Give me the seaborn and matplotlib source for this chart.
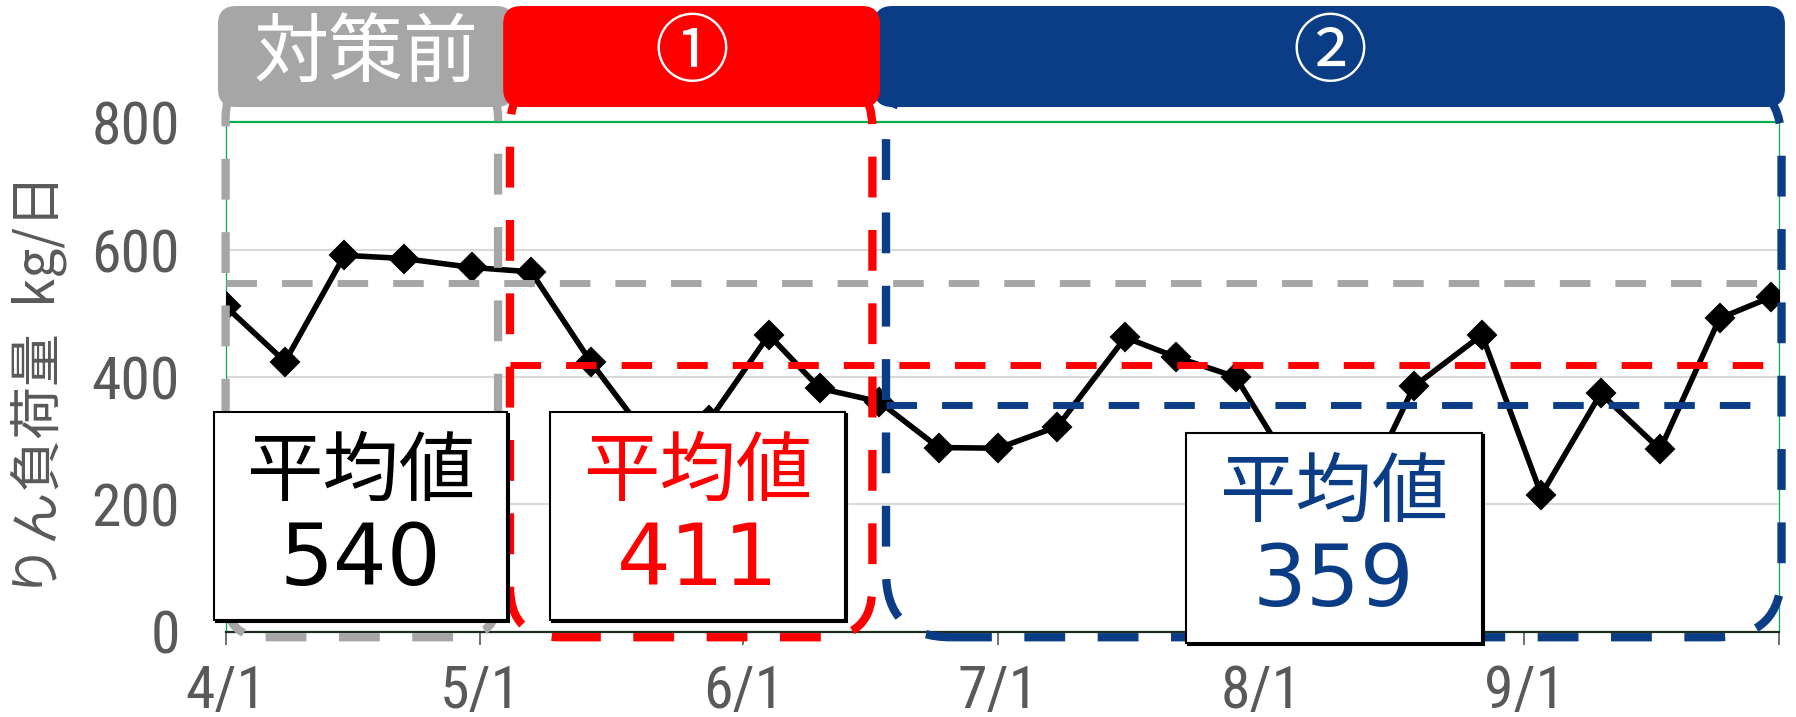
import matplotlib
matplotlib.use("Agg")
import matplotlib.pyplot as plt
import matplotlib.dates as mdates
from matplotlib.patches import FancyBboxPatch, Rectangle
from matplotlib.transforms import IdentityTransform
from matplotlib import font_manager
import pandas as pd
import seaborn as sns

# ---------------- data ----------------
dates = ["2023-04-01", "2023-04-08", "2023-04-15", "2023-04-22", "2023-04-30",
         "2023-05-07", "2023-05-14", "2023-05-21", "2023-05-28", "2023-06-04",
         "2023-06-10", "2023-06-17", "2023-06-24", "2023-07-01", "2023-07-08",
         "2023-07-16", "2023-07-22", "2023-07-29", "2023-08-05", "2023-08-12",
         "2023-08-19", "2023-08-27", "2023-09-03", "2023-09-10", "2023-09-17",
         "2023-09-24", "2023-09-30"]
load = [511, 424, 591, 586, 572,
        565, 424, 300, 332, 466,
        382, 361, 289, 288, 322,
        462, 431, 400, 248, 191,
        385, 466, 215, 374, 286,
        492, 525]

period_labels = ["対策前", "①", "②"]
period_means = [540, 411, 359]          # printed averages
mean_levels = [548, 419, 356]           # level of the dashed average lines as drawn
month_ticks = ["2023-04-01", "2023-05-01", "2023-06-01", "2023-07-01",
               "2023-08-01", "2023-09-01", "2023-10-01"]
tick_labels = ["4/1", "5/1", "6/1", "7/1", "8/1", "9/1", ""]
y_ticks = [0, 200, 400, 600, 800]
y_label = "りん負荷量\u2002kg/日"

# ---------------- styling / layout ----------------
period_colors = ["#A6A6A6", "#FF0000", "#0B3D86"]
value_colors = ["#000000", "#FF0000", "#0B3D86"]
CJK = ["Noto Sans CJK JP", "DejaVu Sans"]

installed = {f.name for f in font_manager.fontManager.ttflist}
narrow_candidates = ["Roboto Condensed", "Liberation Sans Narrow", "DejaVu Sans Condensed",
                     "Open Sans Condensed", "Noto Sans Condensed", "Arial Narrow",
                     "Liberation Sans", "DejaVu Sans"]
NARROW = [f for f in narrow_candidates if f in installed] or ["DejaVu Sans"]

sns.set_theme(style="white")
plt.rcParams["font.family"] = CJK

W, H = 1796, 717
fig = plt.figure(figsize=(W / 100, H / 100), dpi=100)
fig.patch.set_facecolor("white")
ax = fig.add_axes([225.6 / W, 1 - 631.5 / H, (1779 - 225.6) / W, (631.5 - 122.3) / H])

df = pd.DataFrame({"date": pd.to_datetime(dates), "load": load})
sns.lineplot(data=df, x="date", y="load", ax=ax, color="black", linewidth=4.0,
             marker="D", markersize=14, markeredgewidth=1.5, markeredgecolor="black",
             zorder=3)

start = pd.Timestamp(month_ticks[0])
end = pd.Timestamp(month_ticks[-1])
base = mdates.date2num(start)
ax.set_xlim(start, end)
ax.set_ylim(0, 800)
ax.set_yticks(y_ticks)
ax.set_xticks(pd.to_datetime(month_ticks))
ax.set_xticklabels(tick_labels)
ax.set_xlabel("")
ax.set_ylabel("")

ax.set_axisbelow(True)
ax.yaxis.grid(True, color="#D9D9D9", linewidth=1.5)
ax.xaxis.grid(False)
ax.spines["top"].set_color("#00B050")
ax.spines["top"].set_linewidth(1.6)
for side in ["left", "right"]:
    ax.spines[side].set_color("#00B050")
    ax.spines[side].set_linewidth(0.9)
ax.spines["bottom"].set_color("#1E2E1E")
ax.spines["bottom"].set_linewidth(1.6)

ax.tick_params(axis="y", length=0, pad=33, labelsize=43, labelcolor="#595959")
ax.tick_params(axis="x", length=9, width=1.2, color="#595959", pad=14,
               labelsize=43, labelcolor="#595959", bottom=True)
for lab in ax.get_xticklabels() + ax.get_yticklabels():
    lab.set_family(NARROW)

fig.text(39 / W, 1 - 386 / H, y_label, rotation=90, ha="center", va="center",
         fontsize=38, color="#595959", family=CJK)

# average lines (data coords)
mean_spans = [(0, 183), (33.5, 183), (77.8, 180.5)]
for lvl, (d0, d1), c in zip(mean_levels, mean_spans, period_colors):
    ax.plot([base + d0, base + d1], [lvl, lvl], color=c, linewidth=5,
            dashes=(4.4, 3.6), dash_capstyle="butt", zorder=4, clip_on=False)

ID = IdentityTransform()


def disp(day, val):
    return ax.transData.transform((base + day, val))


def box_disp(d0, d1, v0, v1):
    x0, y0 = disp(d0, v0)
    x1, y1 = disp(d1, v1)
    return min(x0, x1), min(y0, y1), abs(x1 - x0), abs(y1 - y0)


# dashed rounded period outlines
outline_spans = [(0, 32.1), (33.5, 76.2), (77.8, 183.3)]
outline_radius = [40, 50, 65]
for (d0, d1), r, c in zip(outline_spans, outline_radius, period_colors):
    x, y, w, h = box_disp(d0, d1, -9, 870)
    p = FancyBboxPatch((x, y), w, h, boxstyle=f"round,pad=0,rounding_size={r}",
                       transform=ID, facecolor="none", edgecolor=c, linewidth=6,
                       linestyle=(0, (4.9, 3.9)), zorder=5)
    p.set_capstyle("butt")
    fig.add_artist(p)

# header boxes
header_spans = [(-0.9, 34.0), (32.7, 77.1), (76.4, 183.7)]
order = [0, 2, 1]
for k, i in enumerate(order):
    d0, d1 = header_spans[i]
    x, y, w, h = box_disp(d0, d1, 824, 982.7)
    p = FancyBboxPatch((x, y), w, h, boxstyle="round,pad=0,rounding_size=18",
                       transform=ID, facecolor=period_colors[i], edgecolor="none",
                       zorder=6 + k * 0.1)
    fig.add_artist(p)
    fig.text(x + w / 2, y + h / 2 + 2, period_labels[i], transform=ID,
             ha="center", va="center", fontsize=54, color="white",
             family=CJK, zorder=6.05 + k * 0.1)

# average value boxes
value_spans = [(-1.36, 33.2, 18, 345), (38.2, 73.0, 18, 345), (113.1, 148.0, -18, 312)]
for (d0, d1, v0, v1), m, c in zip(value_spans, period_means, value_colors):
    x, y, w, h = box_disp(d0, d1, v0, v1)
    sh = Rectangle((x + 2, y - 2), w, h, transform=ID, facecolor="black",
                   edgecolor="black", linewidth=1.5, zorder=7)
    fig.add_artist(sh)
    r = Rectangle((x, y), w, h, transform=ID, facecolor="white",
                  edgecolor="black", linewidth=1.5, zorder=7.1)
    fig.add_artist(r)
    top = y + h
    fig.text(x + w / 2, top - 61, "平均値", transform=ID, ha="center", va="center",
             fontsize=55, color=c, family=CJK, zorder=7.2)
    fig.text(x + w / 2, top - 150, str(m), transform=ID, ha="center", va="center",
             fontsize=61, color=c, family=["DejaVu Sans"], zorder=7.2)

fig.savefig("out.png", dpi=100, facecolor="white")
